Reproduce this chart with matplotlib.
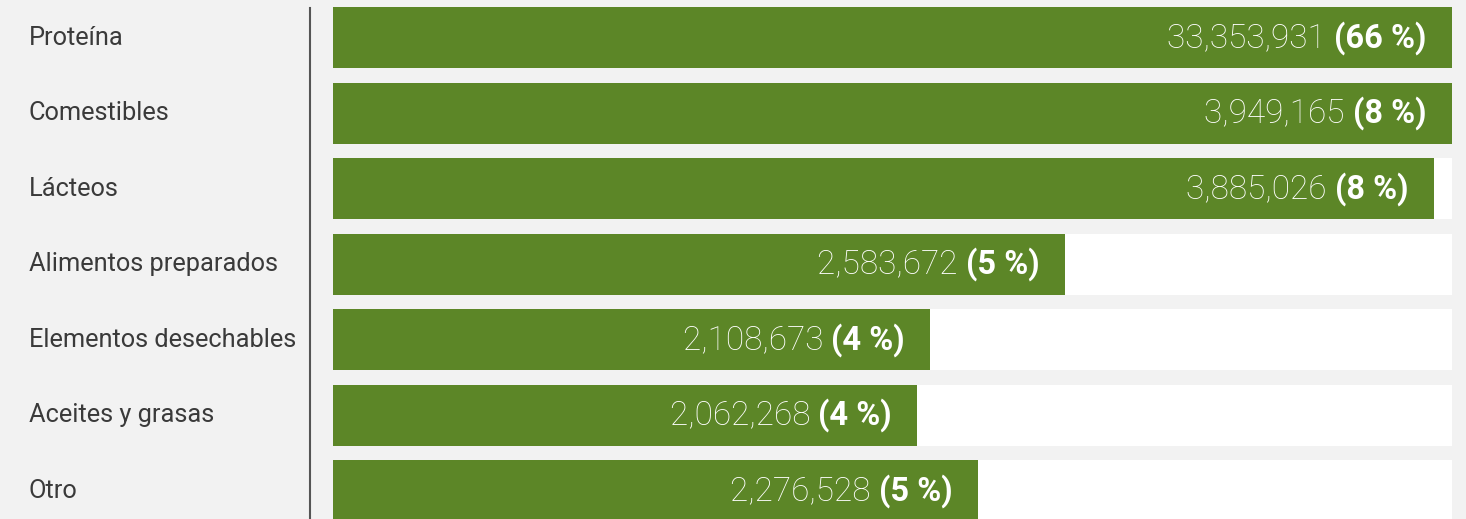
import matplotlib.pyplot as plt
import matplotlib.transforms as mtransforms
from matplotlib.lines import Line2D

# Datos
categorias = ["Proteína", "Comestibles", "Lácteos", "Alimentos preparados",
              "Elementos desechables", "Aceites y grasas", "Otro"]
valores = [33353931, 3949165, 3885026, 2583672, 2108673, 2062268, 2276528]
porcentajes = [66, 8, 8, 5, 4, 4, 5]

# la escala llega hasta el segundo valor, la barra de Proteína se corta
escala_max = 3949165

fondo = "#f2f2f2"
verde = "#5c8627"

W, H = 1466, 519
fig = plt.figure(figsize=(W / 100, H / 100), dpi=100, facecolor=fondo)
ax = fig.add_axes([333 / W, 0, 1119 / W, 1])
ax.set_facecolor(fondo)

y = list(range(len(categorias)))
ax.barh(y, [escala_max] * len(y), height=0.808, color="white")
ax.barh(y, valores, height=0.808, color=verde)
ax.set_xlim(0, escala_max)
ax.set_ylim(6.374, -0.5)
ax.axis("off")

etiq = mtransforms.blended_transform_factory(fig.transFigure, ax.transData)
for i, cat in enumerate(categorias):
    ax.text(29 / W, i, cat, transform=etiq, ha="left", va="center",
            fontsize=18.3, color="#3a3a3a", family="Roboto",
            clip_on=False)

    fin = min(valores[i], escala_max)
    pct = ax.annotate(f"({porcentajes[i]} %)", xy=(fin, i), xytext=(-18.5, 0),
                      textcoords="offset points", ha="right", va="center",
                      fontsize=23.5, color="white", family="Roboto", weight="bold")
    ax.annotate(f"{valores[i]:,} ", xy=(0, 0.5), xycoords=pct,
                ha="right", va="center", fontsize=24, color="white",
                family="Roboto", weight="light")

fig.add_artist(Line2D([310 / W, 310 / W], [0, 1 - 8 / H], color="#555555",
                      linewidth=1.5, transform=fig.transFigure))

fig.savefig("out.png", dpi=100, facecolor=fondo)
